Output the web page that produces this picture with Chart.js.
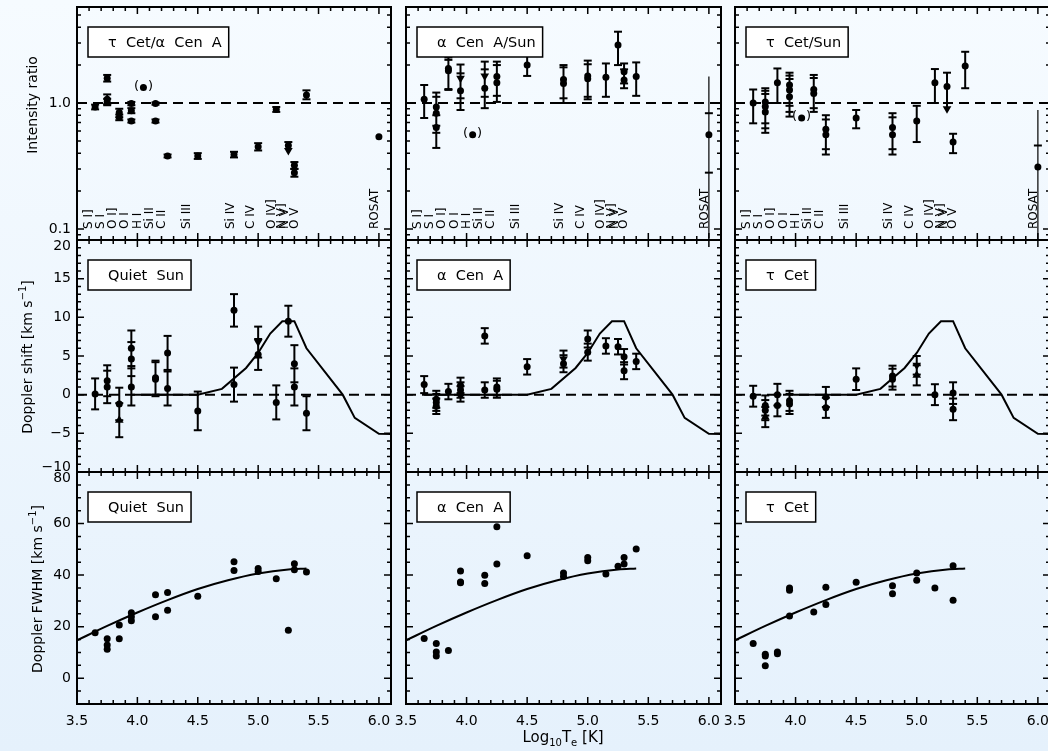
<!DOCTYPE html>
<html>
<head>
<meta charset="utf-8">
<script src="https://cdn.jsdelivr.net/npm/chart.js@4.4.1/dist/chart.umd.min.js"></script>
<style>
  html, body { margin: 0; padding: 0; width: 1048px; height: 751px; overflow: hidden; }
  body { position: relative; background: linear-gradient(#f6fbff, #e5f1fc); }
  canvas { position: absolute; left: 0; top: 0; }
</style>
</head>
<body>
<script>
// ---------- axes ----------
const xMajorTicks = [3.5, 4.0, 4.5, 5.0, 5.5, 6.0];
const xTickLabels = ['3.5', '4.0', '4.5', '5.0', '5.5', '6.0'];
const ratioTicks = [0.1, 1];
const ratioTickLabels = ['0.1', '1.0'];
const ratioMinorTicks = [0.09, 0.2, 0.3, 0.4, 0.5, 0.6, 0.7, 0.8, 0.9, 2, 3, 4, 5];
const shiftTicks = [-10, -5, 0, 5, 10, 15, 20];
const shiftTickLabels = ['−10', '−5', '0', '5', '10', '15', '20'];
const fwhmTicks = [0, 20, 40, 60, 80];
const fwhmTickLabels = ['0', '20', '40', '60', '80'];

// ---------- line identifications (log10 Te of label) ----------
const lineNames = ['S I]', 'S I', 'O I]', 'O I', 'H I', 'Si II', 'C II', 'Si III', 'Si IV', 'C IV', 'O IV]', 'N V]', 'N V', 'O V', 'ROSAT'];
const lineLabelLogT = [3.60, 3.70, 3.80, 3.90, 4.00, 4.10, 4.20, 4.41, 4.77, 4.94, 5.11, 5.20, 5.22, 5.30, 5.97];

// ---------- intensity ratios ----------
// sym: o dot, v / ^ triangles, L upper limit (arrow at lo), p dot in parentheses
const ratioCenLogT = [3.65, 3.75, 3.75, 3.75, 3.85, 3.85, 3.95, 3.95, 3.95, 4.05, 4.15, 4.15, 4.25, 4.50, 4.80, 5.00, 5.15, 5.25, 5.30, 5.30, 5.40];
const ratioCenVal  = [0.93, 1.57, 1.07, 1.02, 0.84, 0.77, 0.99, 0.87, 0.72, 1.33, 0.99, 0.72, 0.38, 0.38, 0.39, 0.45, 0.89, 0.46, 0.32, 0.28, 1.16];
const ratioCenLo   = [0.89, 1.48, 0.98, 0.96, 0.77, 0.73, 0.96, 0.83, 0.70, 1.33, 0.97, 0.70, 0.37, 0.36, 0.37, 0.42, 0.85, 0.42, 0.30, 0.26, 1.07];
const ratioCenHi   = [0.97, 1.67, 1.17, 1.08, 0.90, 0.81, 1.02, 0.91, 0.74, 1.33, 1.01, 0.74, 0.39, 0.40, 0.41, 0.48, 0.93, 0.49, 0.34, 0.30, 1.26];
const ratioCenSym  = ['o','o','o','o','o','o','o','o','o','p','o','o','o','o','o','o','o','L','o','o','o'];

const ratioASunLogT = [3.65, 3.75, 3.75, 3.75, 3.85, 3.85, 3.95, 3.95, 4.05, 4.15, 4.15, 4.25, 4.25, 4.50, 4.80, 4.80, 5.00, 5.00, 5.15, 5.25, 5.30, 5.30, 5.40];
const ratioASunVal  = [1.07, 0.93, 0.83, 0.64, 1.88, 1.80, 1.57, 1.25, 0.56, 1.64, 1.31, 1.62, 1.45, 2.00, 1.54, 1.43, 1.64, 1.56, 1.60, 2.89, 1.77, 1.52, 1.62];
const ratioASunLo   = [0.76, 0.66, 0.58, 0.44, 1.29, 1.27, 1.09, 0.88, 0.56, 1.12, 0.91, 1.14, 1.02, 1.64, 1.09, 1.00, 1.12, 1.07, 1.12, 2.00, 1.43, 1.31, 1.14];
const ratioASunHi   = [1.39, 1.21, 1.12, 0.80, 2.30, 2.20, 2.02, 1.72, 0.56, 2.13, 1.85, 2.13, 2.00, 2.55, 2.00, 1.92, 2.17, 2.03, 2.06, 3.68, 2.06, 1.85, 2.10];
const ratioASunSym  = ['o','o','o','o','o','o','v','o','p','v','o','o','o','o','o','o','o','o','o','o','o','o','o'];

const ratioTSunLogT = [3.65, 3.75, 3.75, 3.75, 3.85, 3.95, 3.95, 3.95, 4.05, 4.15, 4.15, 4.25, 4.25, 4.50, 4.80, 4.80, 5.00, 5.15, 5.25, 5.30, 5.40];
const ratioTSunVal  = [1.00, 1.02, 0.94, 0.85, 1.45, 1.39, 1.27, 1.12, 0.76, 1.28, 1.19, 0.62, 0.56, 0.76, 0.64, 0.56, 0.72, 1.45, 1.35, 0.49, 1.97];
const ratioTSunLo   = [0.69, 0.69, 0.63, 0.58, 1.00, 0.95, 0.85, 0.78, 0.76, 0.91, 0.85, 0.43, 0.39, 0.63, 0.43, 0.39, 0.49, 1.00, 0.90, 0.40, 1.31];
const ratioTSunHi   = [1.28, 1.31, 1.25, 1.18, 1.88, 1.74, 1.65, 1.55, 0.76, 1.67, 1.58, 0.80, 0.74, 0.88, 0.83, 0.77, 0.95, 1.86, 1.74, 0.57, 2.55];
const ratioTSunSym  = ['o','o','o','o','o','o','o','o','p','o','o','o','o','o','o','o','o','o','L','o','o'];

// ROSAT ratio per panel (thin bar)
const rosatLogT = 6.0;
const rosatVal    = [0.54, 0.56, 0.31];
const rosatCapLo  = [0.54, 0.28, 0.06];
const rosatCapHi  = [0.54, 0.83, 0.46];
const rosatLineLo = [0.54, 0.085, 0.06];
const rosatLineHi = [0.54, 1.62, 0.88];

// ---------- Doppler shifts [km/s] ----------
const shiftSunLogT = [3.65, 3.75, 3.75, 3.85, 3.85, 3.95, 3.95, 3.95, 4.15, 4.15, 4.25, 4.25, 4.50, 4.80, 4.80, 5.00, 5.00, 5.15, 5.25, 5.30, 5.30, 5.40];
const shiftSunVal  = [0.1, 1.8, 1.0, -1.2, -3.3, 6.0, 4.6, 1.0, 2.2, 2.0, 5.4, 0.8, -2.1, 10.9, 1.3, 6.8, 5.2, -1.0, 9.5, 4.0, 1.0, -2.4];
const shiftSunErr  = [2.0, 2.0, 2.1, 2.1, 2.2, 2.3, 2.2, 2.4, 2.2, 2.2, 2.2, 2.2, 2.5, 2.1, 2.2, 2.0, 2.0, 2.2, 2.0, 2.4, 2.4, 2.2];
const shiftSunSym  = ['o','o','o','o','^','o','o','o','o','o','o','o','o','o','o','v','o','o','o','o','o','o'];

const shiftCenLogT = [3.65, 3.75, 3.75, 3.75, 3.85, 3.95, 3.95, 3.95, 4.15, 4.15, 4.25, 4.25, 4.50, 4.80, 4.80, 5.00, 5.00, 5.15, 5.25, 5.30, 5.30, 5.40];
const shiftCenVal  = [1.3, -0.6, -1.0, -1.5, 0.4, 1.2, 0.6, 0.1, 7.6, 0.6, 1.0, 0.7, 3.6, 4.6, 4.0, 7.2, 5.5, 6.3, 6.2, 4.9, 3.1, 4.3];
const shiftCenErr  = [1.1, 1.1, 1.1, 1.0, 1.0, 1.0, 1.0, 1.0, 1.0, 1.0, 1.1, 1.1, 1.0, 1.1, 1.1, 1.1, 1.1, 1.0, 1.0, 1.0, 1.1, 1.0];
const shiftCenSym  = ['o','o','o','o','o','o','o','o','o','o','o','o','o','v','o','o','o','o','o','o','o','o'];

const shiftCetLogT = [3.65, 3.75, 3.75, 3.75, 3.85, 3.85, 3.95, 3.95, 4.25, 4.25, 4.50, 4.80, 4.80, 5.00, 5.00, 5.15, 5.30, 5.30];
const shiftCetVal  = [-0.2, -1.4, -2.0, -2.9, 0.0, -1.4, -0.8, -1.2, -0.3, -1.7, 2.0, 2.4, 2.0, 3.8, 2.5, 0.0, 0.2, -1.9];
const shiftCetErr  = [1.35, 1.3, 1.3, 1.3, 1.4, 1.4, 1.3, 1.3, 1.3, 1.3, 1.4, 1.35, 1.35, 1.2, 1.3, 1.35, 1.4, 1.4];
const shiftCetSym  = ['o','o','o','^','o','o','o','o','o','o','o','o','o','v','^','o','o','o'];

// model redshift curve
const modelShiftStart = [3.95, 3.65, 3.95];
const modelShiftLogT = [3.95, 4.50, 4.70, 4.90, 5.00, 5.10, 5.20, 5.30, 5.40, 5.70, 5.80, 6.00, 6.10];
const modelShiftVal  = [0, 0, 0.75, 3.45, 5.4, 7.9, 9.5, 9.5, 6.0, 0, -3.0, -5.05, -5.1];

// ---------- line widths, FWHM [km/s] ----------
const fwhmSunLogT = [3.65, 3.75, 3.75, 3.75, 3.85, 3.85, 3.95, 3.95, 3.95, 4.15, 4.15, 4.25, 4.25, 4.50, 4.80, 4.80, 5.00, 5.00, 5.15, 5.25, 5.30, 5.30, 5.40];
const fwhmSunVal  = [17.6, 15.3, 12.9, 11.2, 20.6, 15.3, 25.4, 23.8, 22.3, 32.4, 23.8, 33.3, 26.4, 31.8, 45.2, 41.8, 42.6, 41.4, 38.6, 18.6, 44.4, 42.1, 41.2];
const fwhmCenLogT = [3.65, 3.75, 3.75, 3.75, 3.85, 3.95, 3.95, 3.95, 4.15, 4.15, 4.25, 4.25, 4.50, 4.80, 4.80, 5.00, 5.00, 5.15, 5.25, 5.30, 5.30, 5.40];
const fwhmCenVal  = [15.4, 13.5, 10.2, 8.6, 10.8, 41.6, 37.3, 37.0, 39.9, 36.7, 58.8, 44.3, 47.5, 40.8, 39.5, 46.8, 45.6, 40.4, 43.4, 46.8, 44.3, 50.1];
const fwhmCetLogT = [3.65, 3.75, 3.75, 3.75, 3.85, 3.85, 3.95, 3.95, 3.95, 4.15, 4.25, 4.25, 4.50, 4.80, 4.80, 5.00, 5.00, 5.15, 5.30, 5.30];
const fwhmCetVal  = [13.5, 9.3, 8.6, 4.8, 10.2, 9.5, 35.0, 34.1, 24.1, 25.7, 35.3, 28.6, 37.2, 35.9, 32.8, 40.8, 38.0, 35.0, 43.6, 30.2];

const modelFwhmLogT = [3.50, 3.75, 4.00, 4.25, 4.50, 4.75, 5.00, 5.25, 5.40];
const modelFwhmVal  = [14.7, 20.3, 25.5, 30.3, 34.6, 38.0, 40.6, 42.2, 42.6];

// ---------- layout ----------
const CW = 1060, CH = 751;
const cols = [[77, 391], [406, 721], [735, 1050]];
const rows = [[7, 240], [240, 472], [472, 704]];
const FONT = '"DejaVu Sans", "Liberation Sans", sans-serif';

const xMinorTicks = [];
for (let v = 36; v <= 61; v++) if (v % 5) xMinorTicks.push(v / 10);
const shiftMinorTicks = [];
for (let v = -9; v < 20; v++) if (v % 5) shiftMinorTicks.push(v);
const fwhmMinorTicks = [];
for (let v = -10; v < 80; v += 5) if (v % 20) fwhmMinorTicks.push(v);

function pointSet(data, style, r, rot) {
  return {
    type: 'scatter', data, showLine: false,
    pointStyle: style, pointRadius: r, pointRotation: rot,
    pointBackgroundColor: '#000', pointBorderColor: '#000',
    pointBorderWidth: style === 'line' ? 2 : 0
  };
}
function lineSet(data, width, dash, extra) {
  return Object.assign({
    type: 'line', data, borderColor: '#000', borderWidth: width, borderDash: dash || [],
    pointRadius: 0, fill: false, spanGaps: false, tension: 0
  }, extra || {});
}

function errorBarSets(x, v, lo, hi, sym) {
  const dots = [], downs = [], ups = [], caps = [], stems = [];
  let paren = null;
  x.forEach((xv, i) => {
    const s = sym ? sym[i] : 'o';
    if (lo && hi[i] > lo[i]) {
      stems.push({ x: xv, y: lo[i] }, { x: xv, y: hi[i] }, { x: xv, y: null });
      caps.push({ x: xv, y: hi[i] });
      if (s === 'L') downs.push({ x: xv, y: lo[i] });
      else caps.push({ x: xv, y: lo[i] });
    }
    if (s === 'v') downs.push({ x: xv, y: v[i] });
    else if (s === '^') ups.push({ x: xv, y: v[i] });
    else dots.push({ x: xv, y: v[i] });
    if (s === 'p') paren = { x: xv, y: v[i] };
  });
  return {
    sets: [
      pointSet(dots, 'circle', 3.5, 0),
      pointSet(downs, 'triangle', 5, 180),
      pointSet(ups, 'triangle', 5, 0),
      pointSet(caps, 'line', 4, 0),
      lineSet(stems, 2)
    ],
    paren
  };
}

function drawRich(ctx, parts, x, y, rot) {
  ctx.save();
  ctx.translate(x, y);
  if (rot) ctx.rotate(-Math.PI / 2);
  let total = 0;
  parts.forEach(p => { ctx.font = p.size + 'px ' + FONT; p.w = ctx.measureText(p.t).width; total += p.w; });
  let cx = -total / 2;
  ctx.textAlign = 'left';
  ctx.textBaseline = 'alphabetic';
  parts.forEach(p => { ctx.font = p.size + 'px ' + FONT; ctx.fillText(p.t, cx, p.dy || 0); cx += p.w; });
  ctx.restore();
}

// frame, inward ticks, labels and the legend box of one panel
function decoPlugin(cfg) {
  return {
    id: 'panelDeco',
    afterDraw(chart) {
      const { ctx, chartArea: a } = chart;
      const xs = chart.scales.x, ys = chart.scales.y;
      ctx.save();
      ctx.strokeStyle = '#000';
      ctx.fillStyle = '#000';
      ctx.lineWidth = 2;
      ctx.strokeRect(a.left, a.top, a.right - a.left, a.bottom - a.top);

      ctx.lineWidth = 1.5;
      ctx.beginPath();
      const xTick = (v, len) => {
        const p = xs.getPixelForValue(v);
        if (p < a.left - 0.5 || p > a.right + 0.5) return;
        ctx.moveTo(p, a.bottom); ctx.lineTo(p, a.bottom - len);
        ctx.moveTo(p, a.top); ctx.lineTo(p, a.top + len);
      };
      const yTick = (v, len) => {
        const p = ys.getPixelForValue(v);
        if (p < a.top - 0.5 || p > a.bottom + 0.5) return;
        ctx.moveTo(a.left, p); ctx.lineTo(a.left + len, p);
        ctx.moveTo(a.right, p); ctx.lineTo(a.right - len, p);
      };
      xMajorTicks.forEach(v => xTick(v, 7));
      xMinorTicks.forEach(v => xTick(v, 4));
      cfg.yTicks.forEach(v => yTick(v, 7));
      cfg.yMinor.forEach(v => yTick(v, 4));
      ctx.stroke();

      ctx.font = '14px ' + FONT;
      if (cfg.yLabels) {
        ctx.textAlign = 'right';
        ctx.textBaseline = 'middle';
        cfg.yTicks.forEach((v, i) => {
          let p = ys.getPixelForValue(v);
          if (Math.abs(p - a.top) < 2) p += 6;
          else if (Math.abs(p - a.bottom) < 2) p -= 5;
          ctx.fillText(cfg.yTickLabels[i], a.left - 6, p);
        });
      }
      if (cfg.xLabels) {
        ctx.textAlign = 'center';
        ctx.textBaseline = 'middle';
        xMajorTicks.forEach((v, i) => ctx.fillText(xTickLabels[i], xs.getPixelForValue(v), a.bottom + 17));
      }

      if (cfg.lineIds) {
        ctx.font = '12px ' + FONT;
        ctx.textAlign = 'left';
        ctx.textBaseline = 'middle';
        lineNames.forEach((n, i) => {
          ctx.save();
          ctx.translate(xs.getPixelForValue(lineLabelLogT[i]), a.bottom - 11);
          ctx.rotate(-Math.PI / 2);
          ctx.fillText(n, 0, 0);
          ctx.restore();
        });
      }

      if (cfg.paren) {
        const px = xs.getPixelForValue(cfg.paren.x), py = ys.getPixelForValue(cfg.paren.y);
        ctx.font = '13px ' + FONT;
        ctx.textAlign = 'center';
        ctx.textBaseline = 'middle';
        ctx.fillText('(', px - 7, py - 1);
        ctx.fillText(')', px + 7, py - 1);
      }

      // legend box
      ctx.font = '14.5px ' + FONT;
      const tw = ctx.measureText(cfg.legend).width;
      const bx = a.left + 11, by = a.top + 20, bw = tw + 27, bh = 30;
      ctx.fillStyle = '#fff';
      ctx.fillRect(bx, by, bw, bh);
      ctx.lineWidth = 1.5;
      ctx.strokeRect(bx, by, bw, bh);
      ctx.fillStyle = '#000';
      ctx.textAlign = 'right';
      ctx.textBaseline = 'middle';
      ctx.fillText(cfg.legend, bx + bw - 7, by + bh / 2 + 1);

      if (cfg.yTitle) drawRich(ctx, cfg.yTitle.parts, cfg.yTitle.x, cfg.yTitle.y, true);
      if (cfg.xTitle) drawRich(ctx, cfg.xTitle.parts, cfg.xTitle.x, cfg.xTitle.y, false);
      ctx.restore();
    }
  };
}

function makePanel(row, col, datasets, yScale, cfg) {
  const cv = document.createElement('canvas');
  cv.width = CW;
  cv.height = CH;
  document.body.appendChild(cv);
  new Chart(cv, {
    type: 'scatter',
    data: { datasets },
    options: {
      responsive: false,
      animation: false,
      devicePixelRatio: 1,
      events: [],
      layout: {
        autoPadding: false,
        padding: { left: cols[col][0], right: CW - cols[col][1], top: rows[row][0], bottom: CH - rows[row][1] }
      },
      scales: {
        x: { type: 'linear', min: 3.5, max: 6.1, display: false },
        y: Object.assign({ display: false }, yScale)
      },
      plugins: { legend: { display: false }, tooltip: { enabled: false } }
    },
    plugins: [decoPlugin(cfg)]
  });
}

const yTitles = [
  { x: 37, y: 105, parts: [{ t: 'Intensity ratio', size: 14 }] },
  { x: 32, y: 357, parts: [{ t: 'Doppler shift [km s', size: 14 }, { t: '−1', size: 10, dy: -6 }, { t: ']', size: 14 }] },
  { x: 42, y: 589, parts: [{ t: 'Doppler FWHM [km s', size: 14 }, { t: '−1', size: 10, dy: -6 }, { t: ']', size: 14 }] }
];
const xTitle = { x: 563, y: 742, parts: [
  { t: 'Log', size: 15 }, { t: '10', size: 10, dy: 4 }, { t: 'T', size: 15 }, { t: 'e', size: 10, dy: 4 }, { t: ' [K]', size: 15 }
] };

// ---------- row 1: intensity ratios ----------
const ratioPanels = [
  { legend: 'τ  Cet/α  Cen  A', x: ratioCenLogT, v: ratioCenVal, lo: ratioCenLo, hi: ratioCenHi, sym: ratioCenSym },
  { legend: 'α  Cen  A/Sun', x: ratioASunLogT, v: ratioASunVal, lo: ratioASunLo, hi: ratioASunHi, sym: ratioASunSym },
  { legend: 'τ  Cet/Sun', x: ratioTSunLogT, v: ratioTSunVal, lo: ratioTSunLo, hi: ratioTSunHi, sym: ratioTSunSym }
];
ratioPanels.forEach((p, col) => {
  const eb = errorBarSets(p.x, p.v, p.lo, p.hi, p.sym);
  const rCaps = rosatCapHi[col] > rosatCapLo[col]
    ? [{ x: rosatLogT, y: rosatCapLo[col] }, { x: rosatLogT, y: rosatCapHi[col] }] : [];
  const rLine = [{ x: rosatLogT, y: rosatLineLo[col] }, { x: rosatLogT, y: rosatLineHi[col] }];
  const sets = eb.sets.concat([
    pointSet([{ x: rosatLogT, y: rosatVal[col] }], 'circle', 3.5, 0),
    pointSet(rCaps, 'line', 4, 0),
    lineSet(rLine, 1.2),
    lineSet([{ x: 3.5, y: 1 }, { x: 6.1, y: 1 }], 2, [10, 6])
  ]);
  makePanel(0, col, sets, { type: 'logarithmic', min: 0.0818, max: 5.78 }, {
    legend: p.legend, yTicks: ratioTicks, yTickLabels: ratioTickLabels, yMinor: ratioMinorTicks,
    yLabels: col === 0, xLabels: false, lineIds: true, paren: eb.paren,
    yTitle: col === 0 ? yTitles[0] : null
  });
});

// ---------- row 2: Doppler shifts ----------
const shiftPanels = [
  { legend: 'Quiet  Sun', x: shiftSunLogT, v: shiftSunVal, err: shiftSunErr, sym: shiftSunSym },
  { legend: 'α  Cen  A', x: shiftCenLogT, v: shiftCenVal, err: shiftCenErr, sym: shiftCenSym },
  { legend: 'τ  Cet', x: shiftCetLogT, v: shiftCetVal, err: shiftCetErr, sym: shiftCetSym }
];
shiftPanels.forEach((p, col) => {
  const lo = p.v.map((v, i) => v - p.err[i]);
  const hi = p.v.map((v, i) => v + p.err[i]);
  const eb = errorBarSets(p.x, p.v, lo, hi, p.sym);
  const start = modelShiftStart[col];
  const model = [{ x: start, y: 0 }];
  modelShiftLogT.forEach((t, i) => { if (t > start) model.push({ x: t, y: modelShiftVal[i] }); });
  const sets = eb.sets.concat([
    lineSet(model, 2),
    lineSet([{ x: 3.5, y: 0 }, { x: 6.1, y: 0 }], 2, [10, 6])
  ]);
  makePanel(1, col, sets, { type: 'linear', min: -10, max: 20 }, {
    legend: p.legend, yTicks: shiftTicks, yTickLabels: shiftTickLabels, yMinor: shiftMinorTicks,
    yLabels: col === 0, xLabels: false, lineIds: false, paren: null,
    yTitle: col === 0 ? yTitles[1] : null
  });
});

// ---------- row 3: line widths ----------
const fwhmPanels = [
  { legend: 'Quiet  Sun', x: fwhmSunLogT, v: fwhmSunVal },
  { legend: 'α  Cen  A', x: fwhmCenLogT, v: fwhmCenVal },
  { legend: 'τ  Cet', x: fwhmCetLogT, v: fwhmCetVal }
];
fwhmPanels.forEach((p, col) => {
  const dots = p.x.map((t, i) => ({ x: t, y: p.v[i] }));
  const model = modelFwhmLogT.map((t, i) => ({ x: t, y: modelFwhmVal[i] }));
  const sets = [
    pointSet(dots, 'circle', 3.5, 0),
    lineSet(model, 2, [], { cubicInterpolationMode: 'monotone' })
  ];
  makePanel(2, col, sets, { type: 'linear', min: -10, max: 80 }, {
    legend: p.legend, yTicks: fwhmTicks, yTickLabels: fwhmTickLabels, yMinor: fwhmMinorTicks,
    yLabels: col === 0, xLabels: true, lineIds: false, paren: null,
    yTitle: col === 0 ? yTitles[2] : null,
    xTitle: col === 1 ? xTitle : null
  });
});
</script>
</body>
</html>
